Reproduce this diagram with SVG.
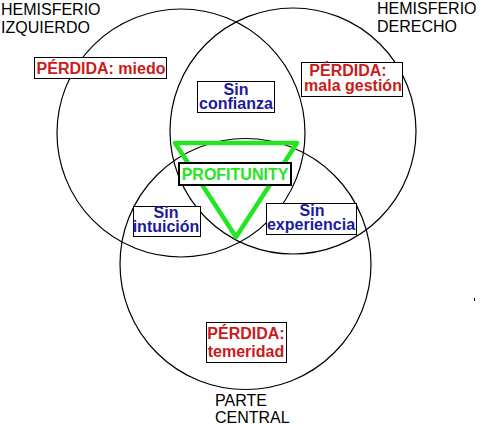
<svg xmlns="http://www.w3.org/2000/svg" width="482" height="424" viewBox="0 0 482 424">
<style>
.c{fill:none;stroke:#000;stroke-width:1.2}
.b{fill:#fff;stroke:#000;stroke-width:1}
.t{font-family:"Liberation Sans",Arial,sans-serif;font-size:16px}
.k{fill:#000}
.r{fill:#cc1a1a;font-weight:bold;text-anchor:middle}
.u{fill:#1a1a9e;font-weight:bold;text-anchor:middle}
.g{fill:#22e622;font-weight:bold;text-anchor:middle}
</style>
<rect width="482" height="424" fill="#fff"/>
<g id="connectors">
<circle class="c" cx="181" cy="133" r="124"/>
<circle class="c" cx="293" cy="131" r="123"/>
<circle class="c" cx="245.5" cy="264" r="125.5"/>
<polygon points="175,143 297,143 236,237" fill="none" stroke="#22e622" stroke-width="4.5" stroke-linejoin="round"/>
</g>
<g id="label-izq"><text class="t k" x="1" y="15">HEMISFERIO</text><text class="t k" x="1" y="33">IZQUIERDO</text></g>
<g id="label-der"><text class="t k" x="377" y="14">HEMISFERIO</text><text class="t k" x="377" y="32">DERECHO</text></g>
<g id="label-central"><text class="t k" x="215" y="406">PARTE</text><text class="t k" x="215" y="423">CENTRAL</text></g>
<g id="perdida-miedo"><rect class="b" x="34.5" y="57.5" width="132" height="21"/><text class="t r" x="101" y="74">PÉRDIDA: miedo</text></g>
<g id="perdida-gestion"><rect class="b" x="301.5" y="62.5" width="101" height="34"/><text class="t r" x="348" y="76">PÉRDIDA:</text><text class="t r" x="353" y="91">mala gestión</text></g>
<g id="sin-confianza"><rect class="b" x="197.5" y="81.5" width="77" height="31"/><text class="t u" x="236" y="95">Sin</text><text class="t u" x="236" y="109">confianza</text></g>
<g id="profitunity"><rect x="179" y="163" width="112" height="22" fill="#fff" stroke="#000" stroke-width="2"/><text class="t g" x="235" y="180">PROFITUNITY</text></g>
<g id="sin-intuicion"><rect class="b" x="133.5" y="206.5" width="67" height="30"/><text class="t u" x="166" y="218">Sin</text><text class="t u" x="166" y="232">intuición</text></g>
<g id="sin-experiencia"><rect class="b" x="266.5" y="203.5" width="90" height="31"/><text class="t u" x="312" y="216">Sin</text><text class="t u" x="311" y="230">experiencia</text></g>
<g id="perdida-temeridad"><rect class="b" x="206.5" y="322.5" width="80" height="40"/><text class="t r" x="246" y="339">PÉRDIDA:</text><text class="t r" x="246" y="357">temeridad</text></g>
<rect x="474" y="298" width="1" height="3" fill="#000"/>
</svg>
